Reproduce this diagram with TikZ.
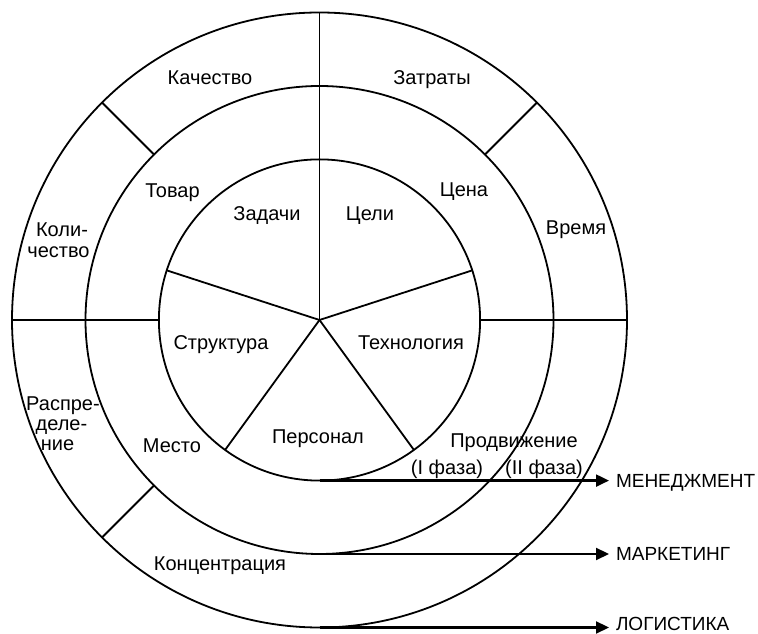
\documentclass[tikz,border=0pt]{standalone}
\usepackage{fontspec}
\setmainfont{Liberation Sans}
\usetikzlibrary{arrows.meta}
\begin{document}
\begin{tikzpicture}[x=1pt,y=1pt,
  ring/.style={circle,draw,line width=1.8pt,inner sep=0pt,outer sep=0pt,minimum size=#1},
  divider/.style={line width=1.8pt},
  lbl/.style={font=\fontsize{20}{22}\selectfont,inner sep=0pt,outer sep=0pt,
              text height=14.3pt,text depth=0pt,anchor=center},
  tag/.style={lbl,font=\fontsize{19}{21}\selectfont,text height=13.6pt,anchor=west},
  flow/.style={line width=2.2pt,-{Triangle[length=13pt,width=12pt]},shorten >=7pt}]
\useasboundingbox (0,0) rectangle (758,634);
\coordinate (C) at (319.5,314);

% three concentric rings
\node[ring=615pt] (outer) at (C) {};
\node[ring=468pt] (middle) at (C) {};
\node[ring=321.2pt] (inner) at (C) {};

% dividers of the outer and middle rings
\draw[divider] (outer.north) -- (C);
\draw[divider] (outer.west) -- (inner.west);
\draw[divider] (inner.east) -- (outer.east);
\draw[divider] (middle.45) -- (outer.45);
\draw[divider] (middle.135) -- (outer.135);
\draw[divider] (middle.225) -- (outer.225);

% the five sectors of the inner circle
\draw[divider] (C) -- (inner.18);
\draw[divider] (C) -- (inner.162);
\draw[divider] (C) -- (inner.234);
\draw[divider] (C) -- (inner.306);

% outer ring
\node[lbl] (kach) at (210,557) {Качество};
\node[lbl] (zatr) at (432,557) {Затраты};
\node[lbl] (vrem) at (576,407) {Время};
\node[lbl] (kol1) at (62,405) {Коли-};
\node[lbl] (kol2) at (58.5,384) {чество};
\node[lbl] (ras1) at (63,231) {Распре-};
\node[lbl] (ras2) at (61.5,211) {деле-};
\node[lbl] (ras3) at (57.5,191) {ние};
\node[lbl] (konc) at (220,71) {Концентрация};

% middle ring
\node[lbl] (tovar) at (172.5,444) {Товар};
\node[lbl] (cena) at (464,445) {Цена};
\node[lbl] (mesto) at (172,189) {Место};
\node[lbl] (prod) at (514,194) {Продвижение};
\node[lbl] (faza1) at (447,167) {(I фаза)};
\node[lbl] (faza2) at (544,167) {(II фаза)};

% inner circle
\node[lbl] (zad) at (267,421) {Задачи};
\node[lbl] (cel) at (370,421) {Цели};
\node[lbl] (str) at (221,292) {Структура};
\node[lbl] (teh) at (411,292) {Технология};
\node[lbl] (pers) at (318,198) {Персонал};

% levels
\node[tag] (men) at (616,153.4) {МЕНЕДЖМЕНТ};
\node[tag] (mark) at (616,80) {МАРКЕТИНГ};
\node[tag] (log) at (616,10) {ЛОГИСТИКА};

\draw[flow] (inner.south) -- (inner.south -| men.west);
\draw[flow] (middle.south) -- (middle.south -| mark.west);
\draw[flow] (outer.south) -- (outer.south -| log.west);
\end{tikzpicture}
\end{document}
